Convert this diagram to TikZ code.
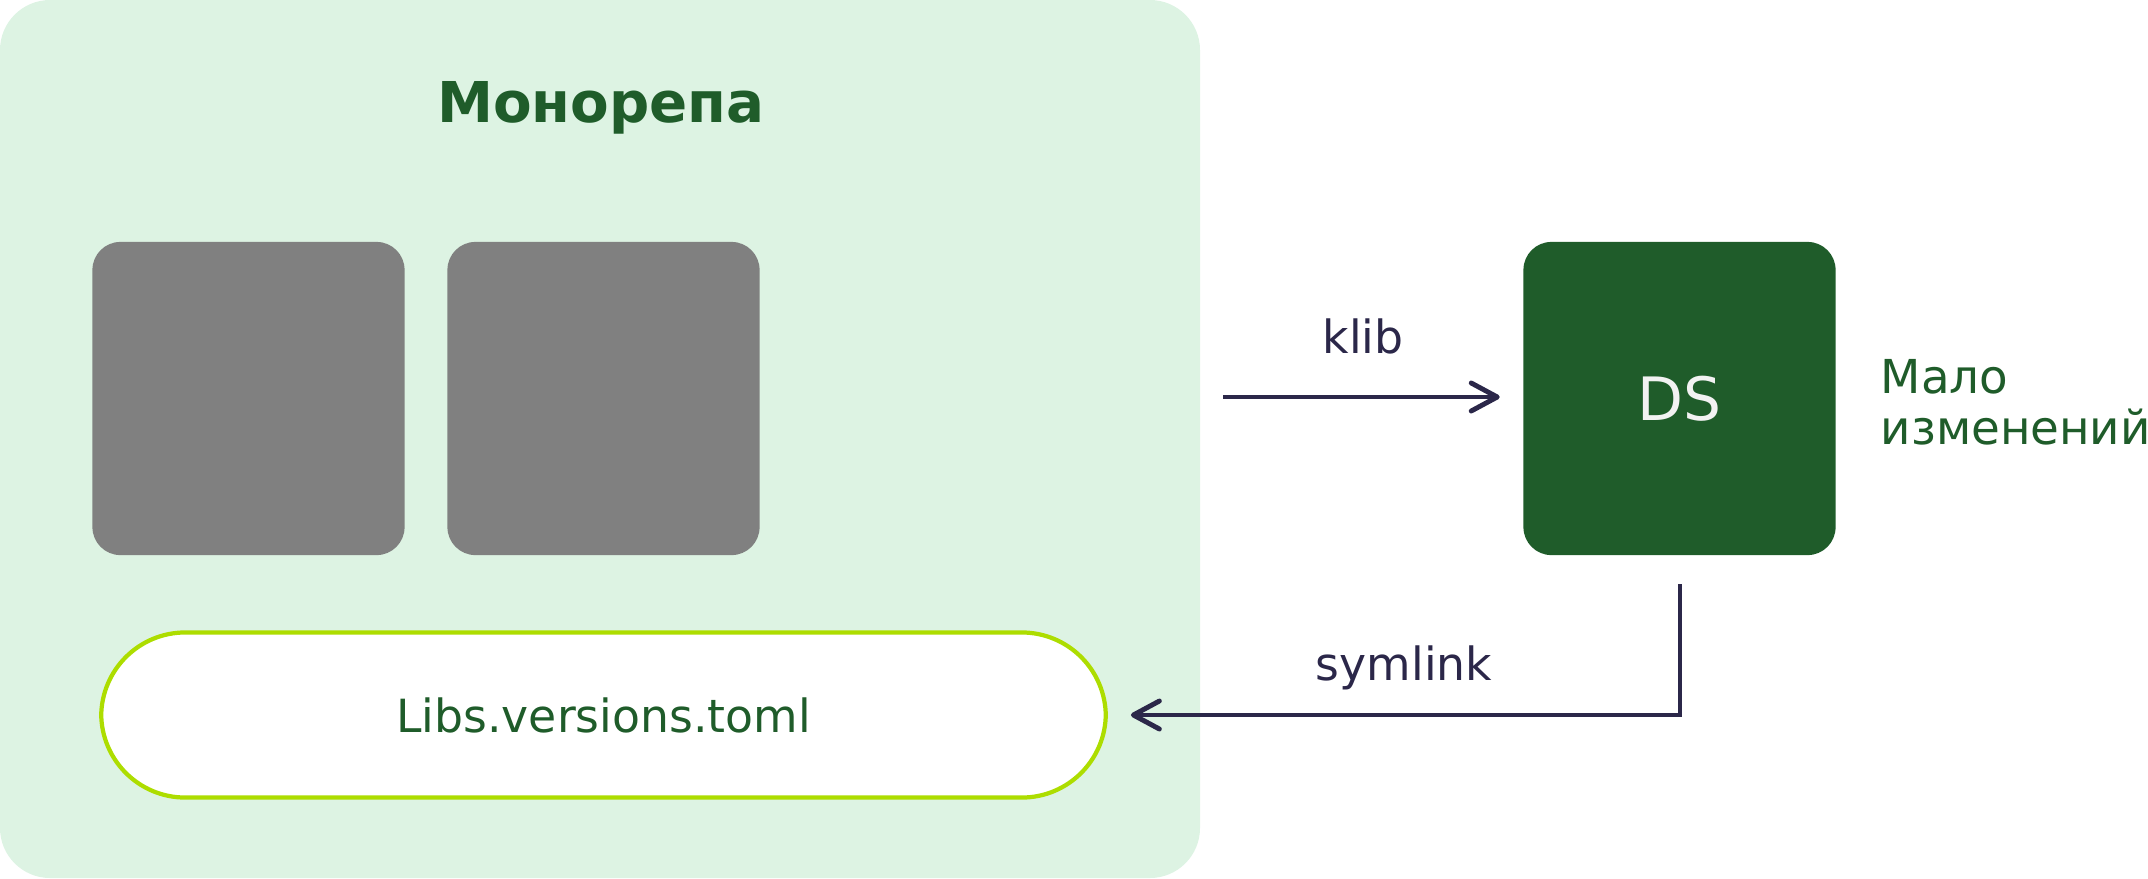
\documentclass[tikz,border=0pt]{standalone}
\usepackage{fontspec}
\setmainfont{DejaVu Sans}
\usetikzlibrary{arrows.meta}
\definecolor{bgg}{HTML}{DDF3E3}
\definecolor{dg}{HTML}{1F5C2A}
\definecolor{gr}{HTML}{808080}
\definecolor{lime}{HTML}{ADDD00}
\definecolor{navy}{HTML}{2B2749}
\definecolor{dstext}{HTML}{F2F2F2}
\begin{document}
\begin{tikzpicture}[x=0.01cm,y=-0.01cm,
  box/.style={rectangle, rounded corners=0.28cm, minimum width=3.12cm, minimum height=3.13cm, inner sep=0pt},
  graybox/.style={box, fill=gr},
  dsbox/.style={box, fill=dg, text=dstext, font=\fontsize{17}{20}\selectfont},
  pillbox/.style={rectangle, rounded corners=0.84cm, minimum width=10.04cm, minimum height=1.65cm, inner sep=0pt, draw=lime, line width=1.2pt, fill=white, text=dg, font=\fontsize{13}{15}\selectfont},
  arr/.style={draw=navy, line width=1.4pt, shorten >=0.23cm, -{Straight Barb[length=0.26cm,width=0.28cm,round]}},
  lbl/.style={text=navy, font=\fontsize{13}{15}\selectfont, inner sep=0pt, anchor=base}]
\useasboundingbox (0,0) rectangle (2148,878);
\fill[bgg, rounded corners=0.5cm] (0,0) rectangle (1200,878);
\node[text=dg, font=\bfseries\fontsize{16}{19}\selectfont, anchor=base, inner sep=0pt] (title) at (601,122) {Монорепа};
\node[graybox] (g1) at (248.5,398.5) {};
\node[graybox] (g2) at (603.5,398.5) {};
\node[dsbox] (ds) at (1679.5,398.5) {DS};
\node[pillbox] (pill) at (603.5,715) {Libs.versions.toml};
\node[text=dg, font=\fontsize{13.3}{14.5}\selectfont, align=left, anchor=west, inner sep=0pt] (note) at (1880,402) {Мало\\изменений};
\coordinate (k0) at (1223,397);
\coordinate (s0) at (1680,584);
\draw[arr] (k0) -- (k0 -| ds.west);
\node[lbl] (klib) at (1363,353) {klib};
\draw[arr] (s0) |- (pill.east);
\node[lbl] (sym) at (1404,680) {symlink};
\end{tikzpicture}
\end{document}
